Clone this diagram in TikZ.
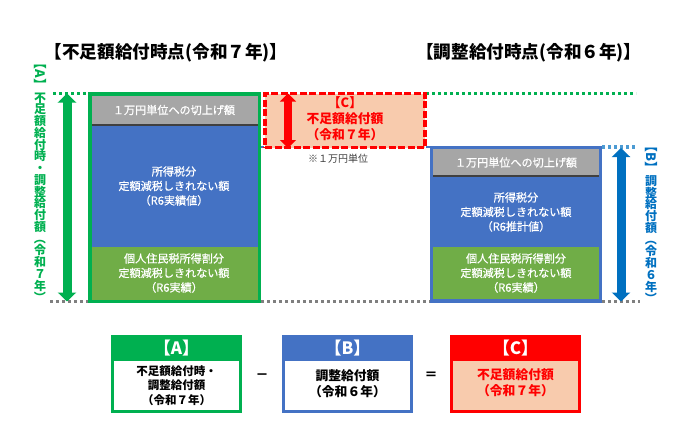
\documentclass[tikz,border=0pt]{standalone}
\usepackage{fontspec}
\usepackage{graphicx}
\setmainfont{Noto Sans CJK JP}
\newfontfamily\jpm[FakeBold=0.8]{Noto Sans CJK JP}
\usetikzlibrary{fit,arrows.meta}
\definecolor{cgreen}{HTML}{00B050}
\definecolor{cblue}{HTML}{4472C4}
\definecolor{carrow}{HTML}{0070C0}
\definecolor{cred}{HTML}{FF0000}
\definecolor{cleaf}{HTML}{70AD47}
\definecolor{cpeach}{HTML}{F8CBAD}
\definecolor{cgray}{HTML}{A6A6A6}
\definecolor{cdot}{HTML}{7F7F7F}
\newcommand{\rp}[1]{\rotatebox[origin=c]{-90}{#1}}
\normallineskip=0pt
\normallineskiplimit=-20pt
\lineskip=0pt
\lineskiplimit=-20pt
\tikzset{
  x=1pt,y=-1pt,
  region/.style={inner sep=0pt,outer sep=0pt,rectangle,align=center},
  bodytext/.style={text=white,font=\jpm\fontsize{11.1}{14.5}\selectfont},
  title/.style={font=\bfseries\fontsize{17.6}{20}\selectfont,inner sep=0pt},
  frameA/.style={region,draw=cgreen,line width=3.5pt},
  frameB/.style={region,draw=cblue,line width=3pt,fill=cblue},
  stack/.style={inner sep=0pt,align=center,font=\bfseries\fontsize{12}{11.75}\selectfont},
  dotline/.style={line width=3.2pt,dash pattern=on 3pt off 3pt},
  dbl/.style={line width=#1,{Triangle[width=18pt,length=9pt]}-{Triangle[width=18pt,length=9pt]}},
  head/.style={region,text=white,font=\bfseries\fontsize{17}{20}\selectfont},
  cell/.style={region,font=\bfseries\fontsize{11.5}{14.4}\selectfont},
  bigcell/.style={region,font=\bfseries\fontsize{12.8}{15.8}\selectfont},
}
\begin{document}
\begin{tikzpicture}
\useasboundingbox (0,0) rectangle (690,442);
% reference coordinates
\coordinate (gl1) at (53,93.5); \coordinate (gl2) at (88,93.5);
\coordinate (gr1) at (426,93.5); \coordinate (gr2) at (636,93.5);
\coordinate (kl1) at (50,301.5); \coordinate (kl2) at (88,301.5);
\coordinate (km1) at (261,301.5); \coordinate (km2) at (430,301.5);
\coordinate (kr1) at (602,301.5); \coordinate (kr2) at (640,301.5);
\coordinate (bl1) at (602,147); \coordinate (bl2) at (637,147);
\coordinate (bm1) at (261,147); \coordinate (bm2) at (264,147);
\coordinate (bn1) at (426,147); \coordinate (bn2) at (430,147);
\draw[dotline,cgreen] (gl1) -- (gl2);
\draw[dotline,cgreen] (gr1) -- (gr2);
\draw[dotline,cdot] (kl1) -- (kl2);
\draw[dotline,cdot] (km1) -- (km2);
\draw[dotline,cdot] (kr1) -- (kr2);
\draw[dotline,carrow!70!white] (bl1) -- (bl2);
\draw[cblue,line width=2pt] (bm1) -- (bm2);
\draw[cblue,line width=2pt] (bn1) -- (bn2);
% titles
\node[title,anchor=west] (t1) at (44.5,53) {【不足額給付時点(令和７年)】};
\node[title,anchor=west] (t2) at (416,53) {【調整給付時点(令和６年)】};
% left column
\node[region,fill=cblue,fit={(90,125)(259,247)}] (lblue) {};
\node[region,fill=cgray,fit={(91,96)(258,125)},bodytext] (lgray) {};
\draw[black!75,line width=1.5pt] (lgray.south west) -- (lgray.south east);
\node[region,fill=cleaf,fit={(90,247)(259,300)}] (lleaf) {};
\node[frameA,fit={(89.75,93.75)(259.25,301.25)}] (lframe) {};
\node[bodytext,inner sep=0pt] (lgrayt) at (174,110) {１万円単位への切上げ額};
\node[bodytext,align=center,inner sep=0pt] (lbluet) at (174,186) {所得税分\\定額減税しきれない額\\（R6実績値）};
\node[bodytext,align=center,inner sep=0pt] (lleaft) at (174,273) {個人住民税所得割分\\定額減税しきれない額\\（R6実績）};
% right column
\node[frameB,fit={(431.5,147.5)(600.5,301)}] (rframe) {};
\node[region,fill=cgray,fit={(433,149)(599,176)}] (rgray) {};
\draw[black!75,line width=1.5pt] (rgray.south west) -- (rgray.south east);
\node[region,fill=cleaf,fit={(433,247)(599,299)}] (rleaf) {};
\node[bodytext,inner sep=0pt] (rgrayt) at (516,162.5) {１万円単位への切上げ額};
\node[bodytext,align=center,inner sep=0pt] (rbluet) at (516,212) {所得税分\\定額減税しきれない額\\（R6推計値）};
\node[bodytext,align=center,inner sep=0pt] (rleaft) at (516,273) {個人住民税所得割分\\定額減税しきれない額\\（R6実績）};
% C box
\node[region,fill=cpeach,draw=cred,line width=3.2pt,dash pattern=on 7pt off 2.5pt,fit={(265,93.5)(425,147.5)}] (cbox) {};
\node[bigcell,text=cred] (ctext) at (345,118.5) {【C】\\不足額給付額\\（令和７年）};
\node[inner sep=0pt,text=black!75,font=\fontsize{10}{12}\selectfont] (note) at (338,159) {※１万円単位};
% arrows
\coordinate (a1) at (67,93.5); \coordinate (a2) at (67,301.5);
\coordinate (b1) at (621,148); \coordinate (b2) at (621,301.5);
\coordinate (c1) at (288,93.5); \coordinate (c2) at (288,148);
\draw[dbl=9pt,cgreen] (a1) -- (a2);
\draw[dbl=9pt,carrow] (b1) -- (b2);
\draw[line width=7.5pt,cred,{Triangle[width=16pt,length=8pt]}-{Triangle[width=16pt,length=8pt]}] (c1) -- (c2);
% vertical labels
\node[stack,text=cgreen,rotate=-90,font=\bfseries\fontsize{13}{14}\selectfont] (la) at (40,74) {【A】};
\node[stack,text=cgreen] (lb) at (40,198)
 {不\\足\\額\\給\\付\\時\\・\\調\\整\\給\\付\\額\\\rp{（}\\令\\和\\７\\年\\\rp{）}};
\node[stack,text=carrow,rotate=-90,font=\bfseries\fontsize{13}{14}\selectfont] (ra) at (651,157) {【B】};
\node[stack,text=carrow] (rb) at (651,240)
 {調\\整\\給\\付\\額\\\rp{（}\\令\\和\\６\\年\\\rp{）}};
% formula
\node[region,fill=cgreen,fit={(111,335)(242,413)}] (fa) {};
\node[region,fill=white,fit={(114,361)(239,410)}] (fai) {};
\node[head] (fah) at (176.5,348) {【A】};
\node[cell,text=black] (fat) at (176.5,385.5) {不足額給付時・\\調整給付額\\（令和７年）};
\node[region,fill=cblue,fit={(282,335)(413,413)}] (fb) {};
\node[region,fill=white,fit={(285,361)(410,410)}] (fbi) {};
\node[head] (fbh) at (347.5,348) {【B】};
\node[bigcell,text=black] (fbt) at (347.5,384) {調整給付額\\（令和６年）};
\node[region,fill=cred,fit={(450,335)(581,413)}] (fc) {};
\node[region,fill=cpeach,fit={(453,361)(578,410)}] (fci) {};
\node[head] (fch) at (515.5,348) {【C】};
\node[bigcell,text=cred] (fct) at (515.5,383) {不足額給付額\\（令和７年）};
\node[inner sep=0pt,font=\bfseries\fontsize{13}{15}\selectfont] (minus) at (262,377) {－};
\node[inner sep=0pt,font=\bfseries\fontsize{13}{15}\selectfont] (eq) at (431,376) {＝};
\end{tikzpicture}
\end{document}
